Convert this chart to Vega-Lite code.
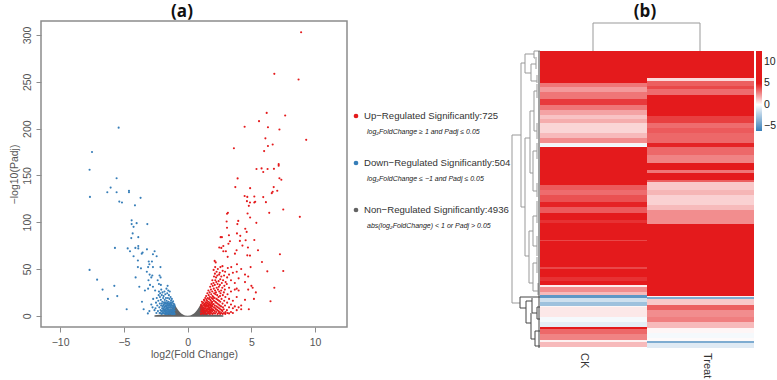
{"$schema":"https://vega.github.io/schema/vega-lite/v6.json","padding":{"left":8,"top":2,"right":0,"bottom":0},"background":"white","spacing":0,"config":{"concat":{"spacing":0},"font":"Liberation Sans"},"datasets":{
"gray":[{"x":-2.6,"y":0.6},{"x":-2.2,"y":1},{"x":-1.6,"y":1.3},{"x":-1.3,"y":7},{"x":-1.05,"y":13},{"x":-0.9,"y":9.5},{"x":-0.8,"y":7.2},{"x":-0.7,"y":5.3},{"x":-0.6,"y":3.7},{"x":-0.5,"y":2.5},{"x":-0.4,"y":1.5},{"x":-0.3,"y":0.8},{"x":-0.2,"y":0.3},{"x":0,"y":0},{"x":0.2,"y":0.3},{"x":0.3,"y":0.8},{"x":0.4,"y":1.5},{"x":0.5,"y":2.5},{"x":0.6,"y":3.7},{"x":0.7,"y":5.3},{"x":0.8,"y":7.2},{"x":0.9,"y":9.5},{"x":1.05,"y":13},{"x":1.3,"y":7},{"x":1.6,"y":1.3},{"x":2.2,"y":1},{"x":2.8,"y":0.6}],
"down":[{"x":-5.41,"y":201},{"x":-7.5,"y":175},{"x":-7.69,"y":156},{"x":-5.57,"y":147},{"x":-7.66,"y":127},{"x":-6.04,"y":137},{"x":-6.3,"y":132},{"x":-5.57,"y":132},{"x":-4.6,"y":133.5},{"x":-4.6,"y":132},{"x":-3.69,"y":126},{"x":-5.36,"y":122},{"x":-5.15,"y":121},{"x":-4.13,"y":118},{"x":-4.39,"y":102},{"x":-4.0,"y":99},{"x":-4.39,"y":98},{"x":-3.16,"y":98},{"x":-4.24,"y":95},{"x":-4.31,"y":88},{"x":-4.42,"y":83},{"x":-3.87,"y":84},{"x":-5.7,"y":72.5},{"x":-4.7,"y":72},{"x":-4.52,"y":69},{"x":-4.1,"y":72.5},{"x":-3.87,"y":74.6},{"x":-3.87,"y":72},{"x":-3.19,"y":71},{"x":-3.53,"y":67.5},{"x":-3.6,"y":66.4},{"x":-2.59,"y":69},{"x":-2.72,"y":65.7},{"x":-2.43,"y":63.6},{"x":-4.24,"y":63.6},{"x":-7.69,"y":49},{"x":-7.1,"y":38.6},{"x":-6.67,"y":28},{"x":-5.75,"y":32},{"x":-6.25,"y":18},{"x":-5.52,"y":21},{"x":-4.78,"y":7},{"x":-3.9,"y":59},{"x":-3.9,"y":52},{"x":-3.66,"y":50.7},{"x":-4.08,"y":41},{"x":-3.79,"y":31},{"x":-3.35,"y":27},{"x":-3.58,"y":15},{"x":-3.45,"y":7},{"x":-3.05,"y":58},{"x":-2.8,"y":58},{"x":-3.0,"y":55},{"x":-3.1,"y":52},{"x":-2.72,"y":52},{"x":-2.13,"y":52},{"x":-3.2,"y":47},{"x":-2.98,"y":44},{"x":-2.85,"y":41},{"x":-3.07,"y":38},{"x":-2.77,"y":43},{"x":-2.35,"y":38},{"x":-2.2,"y":43},{"x":-2.12,"y":41},{"x":-2.25,"y":34},{"x":-2.1,"y":33},{"x":-2.95,"y":33},{"x":-3.1,"y":29},{"x":-2.72,"y":31},{"x":-2.55,"y":27},{"x":-2.7,"y":18},{"x":-2.85,"y":12},{"x":-3.0,"y":5},{"x":-3.12,"y":2.5},{"x":-2.6,"y":6},{"x":-2.75,"y":9},{"x":-2.48,"y":14},{"x":-2.52,"y":8},{"x":-2.42,"y":19},{"x":-2.45,"y":3},{"x":-2.38,"y":11},{"x":-2.33,"y":5},{"x":-2.3,"y":16},{"x":-2.27,"y":22},{"x":-2.25,"y":26},{"x":-2.22,"y":9},{"x":-2.2,"y":3},{"x":-2.18,"y":13},{"x":-2.17,"y":20},{"x":-2.15,"y":24},{"x":-2.12,"y":6},{"x":-2.1,"y":17},{"x":-2.08,"y":11},{"x":-2.07,"y":28},{"x":-2.05,"y":2},{"x":-2.03,"y":22},{"x":-2.0,"y":8},{"x":-1.98,"y":15},{"x":-1.97,"y":25},{"x":-1.95,"y":4},{"x":-1.92,"y":19},{"x":-1.9,"y":11},{"x":-1.88,"y":21},{"x":-1.86,"y":7},{"x":-1.85,"y":14},{"x":-1.83,"y":2.5},{"x":-1.82,"y":26},{"x":-1.8,"y":17},{"x":-1.78,"y":10},{"x":-1.76,"y":5},{"x":-1.75,"y":23},{"x":-1.72,"y":13},{"x":-1.7,"y":2},{"x":-1.7,"y":19},{"x":-1.68,"y":8},{"x":-1.66,"y":29},{"x":-1.65,"y":16},{"x":-1.63,"y":11},{"x":-1.62,"y":5},{"x":-1.6,"y":24},{"x":-1.6,"y":14},{"x":-1.58,"y":2.5},{"x":-1.57,"y":32},{"x":-1.56,"y":8},{"x":-1.55,"y":19},{"x":-1.53,"y":11},{"x":-1.52,"y":27},{"x":-1.5,"y":5},{"x":-1.5,"y":15},{"x":-1.47,"y":22},{"x":-1.45,"y":2},{"x":-1.45,"y":9},{"x":-1.43,"y":12.5},{"x":-1.42,"y":18},{"x":-1.4,"y":6},{"x":-1.4,"y":26},{"x":-1.37,"y":14},{"x":-1.36,"y":3},{"x":-1.35,"y":10},{"x":-1.34,"y":20},{"x":-1.32,"y":7},{"x":-1.3,"y":16},{"x":-1.28,"y":4.5},{"x":-1.27,"y":12},{"x":-1.25,"y":9},{"x":-1.24,"y":18},{"x":-1.23,"y":2},{"x":-1.22,"y":14},{"x":-1.2,"y":6.5},{"x":-1.18,"y":11},{"x":-1.17,"y":4},{"x":-1.15,"y":8.5},{"x":-1.14,"y":15.5},{"x":-1.12,"y":2.5},{"x":-1.11,"y":13},{"x":-1.1,"y":6},{"x":-1.08,"y":10.5},{"x":-1.06,"y":3.5},{"x":-1.05,"y":8},{"x":-1.04,"y":12},{"x":-1.03,"y":5.5},{"x":-1.02,"y":2},{"x":-1.01,"y":10},{"x":-1.5,"y":7},{"x":-1.6,"y":9},{"x":-1.7,"y":11},{"x":-1.8,"y":13},{"x":-1.9,"y":3},{"x":-1.3,"y":11},{"x":-1.4,"y":3.5},{"x":-1.08,"y":1.8},{"x":-1.13,"y":5},{"x":-1.19,"y":1.9},{"x":-1.2,"y":9},{"x":-1.24,"y":6},{"x":-1.29,"y":2},{"x":-1.31,"y":13.5},{"x":-1.33,"y":4},{"x":-1.38,"y":8.5},{"x":-1.39,"y":12},{"x":-1.43,"y":5},{"x":-1.46,"y":11},{"x":-1.48,"y":3},{"x":-1.49,"y":13},{"x":-1.52,"y":9},{"x":-1.54,"y":4},{"x":-1.57,"y":12.5},{"x":-1.59,"y":6.5},{"x":-1.61,"y":2},{"x":-1.63,"y":8},{"x":-1.64,"y":3.5},{"x":-1.66,"y":13},{"x":-1.67,"y":5.5},{"x":-1.69,"y":10},{"x":-1.72,"y":3.5},{"x":-1.73,"y":7},{"x":-1.75,"y":1.9},{"x":-1.77,"y":14.5},{"x":-1.79,"y":6},{"x":-1.82,"y":9},{"x":-1.84,"y":4.5},{"x":-1.87,"y":12},{"x":-1.89,"y":8},{"x":-1.93,"y":6},{"x":-1.96,"y":10},{"x":-1.99,"y":2.5},{"x":-2.02,"y":13},{"x":-2.06,"y":5},{"x":-2.14,"y":3}],
"up":[{"x":8.9,"y":303},{"x":6.8,"y":258.5},{"x":8.7,"y":252.5},{"x":6.2,"y":216.8},{"x":7.65,"y":214},{"x":5.6,"y":208},{"x":4.47,"y":202},{"x":6.3,"y":201.4},{"x":7.2,"y":199},{"x":6.1,"y":189.6},{"x":9.3,"y":188},{"x":6.67,"y":183},{"x":6.3,"y":181.4},{"x":3.63,"y":179},{"x":6.0,"y":176},{"x":7.14,"y":162},{"x":7.14,"y":160.4},{"x":5.8,"y":157.5},{"x":5.4,"y":156.8},{"x":6.27,"y":156.8},{"x":6.77,"y":157},{"x":5.93,"y":153.6},{"x":7.2,"y":147},{"x":7.35,"y":145.4},{"x":3.92,"y":146.8},{"x":3.74,"y":137.5},{"x":4.9,"y":136.4},{"x":6.75,"y":137.5},{"x":7.03,"y":133.6},{"x":6.67,"y":132.5},{"x":6.6,"y":131},{"x":4.47,"y":128},{"x":4.68,"y":127},{"x":5.23,"y":127.5},{"x":5.93,"y":126.8},{"x":4.65,"y":122.5},{"x":4.89,"y":121},{"x":5.23,"y":121},{"x":5.3,"y":121.8},{"x":6.14,"y":121.4},{"x":4.8,"y":117.5},{"x":7.5,"y":113.6},{"x":3.16,"y":110},{"x":3.09,"y":109},{"x":4.7,"y":109.3},{"x":6.4,"y":110},{"x":4.9,"y":105},{"x":8.8,"y":105.7},{"x":3.97,"y":101.4},{"x":3.06,"y":100.7},{"x":3.9,"y":98},{"x":5.39,"y":99.3},{"x":3.09,"y":94},{"x":4.52,"y":93},{"x":4.63,"y":89.6},{"x":3.87,"y":88},{"x":3.24,"y":86},{"x":2.59,"y":84},{"x":2.69,"y":84},{"x":4.13,"y":85.4},{"x":5.23,"y":81},{"x":4.55,"y":80.7},{"x":4.1,"y":80},{"x":3.32,"y":79.6},{"x":3.2,"y":77},{"x":4.3,"y":75},{"x":2.8,"y":74.6},{"x":4.73,"y":73},{"x":2.48,"y":73},{"x":2.64,"y":72.5},{"x":5.52,"y":70},{"x":3.84,"y":70},{"x":2.8,"y":69},{"x":3.0,"y":69},{"x":3.71,"y":66.4},{"x":7.24,"y":65.7},{"x":4.68,"y":64.6},{"x":4.89,"y":64.3},{"x":3.14,"y":63},{"x":2.12,"y":58.6},{"x":2.2,"y":57},{"x":5.83,"y":57.5},{"x":3.87,"y":55},{"x":4.94,"y":52},{"x":7.5,"y":47.9},{"x":6.25,"y":47.5},{"x":4.2,"y":50},{"x":3.42,"y":52},{"x":3.85,"y":47},{"x":4.5,"y":44},{"x":4.75,"y":42},{"x":4.0,"y":40},{"x":4.5,"y":36},{"x":5.0,"y":32},{"x":5.1,"y":30},{"x":4.75,"y":28},{"x":3.85,"y":29},{"x":4.0,"y":27},{"x":3.7,"y":28},{"x":5.35,"y":25},{"x":6.8,"y":30},{"x":5.2,"y":18},{"x":4.5,"y":17},{"x":6.5,"y":15.5},{"x":4.8,"y":7},{"x":4.2,"y":11},{"x":4.0,"y":9},{"x":3.85,"y":6},{"x":3.7,"y":10},{"x":3.55,"y":3},{"x":3.4,"y":4},{"x":4.2,"y":7},{"x":3.4,"y":12},{"x":3.55,"y":8},{"x":3.85,"y":20},{"x":3.55,"y":16},{"x":3.4,"y":26},{"x":3.25,"y":30},{"x":3.4,"y":38},{"x":3.7,"y":35},{"x":3.55,"y":46},{"x":3.25,"y":44},{"x":3.25,"y":18},{"x":3.25,"y":9},{"x":3.25,"y":2.5},{"x":3.12,"y":3},{"x":3.08,"y":6},{"x":3.1,"y":14},{"x":3.13,"y":23},{"x":3.07,"y":34},{"x":3.1,"y":41},{"x":3.15,"y":51},{"x":2.95,"y":2},{"x":2.97,"y":4},{"x":2.93,"y":11},{"x":2.96,"y":20},{"x":2.92,"y":28},{"x":2.98,"y":36},{"x":2.94,"y":47},{"x":2.85,"y":3},{"x":2.83,"y":7},{"x":2.87,"y":16},{"x":2.84,"y":25},{"x":2.88,"y":32},{"x":2.86,"y":43},{"x":2.75,"y":2},{"x":2.73,"y":5},{"x":2.77,"y":9},{"x":2.74,"y":13},{"x":2.76,"y":22},{"x":2.72,"y":30},{"x":2.78,"y":38},{"x":2.75,"y":48},{"x":2.73,"y":53},{"x":2.65,"y":3},{"x":2.67,"y":6},{"x":2.62,"y":10},{"x":2.66,"y":18},{"x":2.63,"y":27},{"x":2.68,"y":35},{"x":2.64,"y":42},{"x":2.55,"y":2},{"x":2.53,"y":4},{"x":2.57,"y":7},{"x":2.52,"y":11},{"x":2.56,"y":15},{"x":2.54,"y":21},{"x":2.58,"y":24},{"x":2.53,"y":33},{"x":2.56,"y":39},{"x":2.52,"y":46},{"x":2.57,"y":52},{"x":2.45,"y":3},{"x":2.43,"y":5},{"x":2.47,"y":8},{"x":2.44,"y":12},{"x":2.46,"y":16},{"x":2.42,"y":20},{"x":2.48,"y":26},{"x":2.45,"y":31},{"x":2.43,"y":37},{"x":2.47,"y":44},{"x":2.35,"y":2},{"x":2.33,"y":6},{"x":2.37,"y":9},{"x":2.34,"y":13},{"x":2.36,"y":17},{"x":2.32,"y":22},{"x":2.38,"y":28},{"x":2.35,"y":34},{"x":2.33,"y":43},{"x":2.37,"y":50},{"x":2.25,"y":4},{"x":2.23,"y":7},{"x":2.27,"y":10},{"x":2.24,"y":14},{"x":2.26,"y":18},{"x":2.22,"y":25},{"x":2.28,"y":30},{"x":2.25,"y":36},{"x":2.23,"y":41},{"x":2.27,"y":47},{"x":2.15,"y":2.5},{"x":2.13,"y":5},{"x":2.17,"y":8},{"x":2.14,"y":11},{"x":2.16,"y":15},{"x":2.12,"y":19},{"x":2.18,"y":23},{"x":2.15,"y":27},{"x":2.13,"y":33},{"x":2.17,"y":38},{"x":2.14,"y":45},{"x":2.16,"y":52},{"x":2.05,"y":3},{"x":2.03,"y":6},{"x":2.07,"y":9},{"x":2.04,"y":12.5},{"x":2.06,"y":16},{"x":2.02,"y":20},{"x":2.08,"y":24},{"x":2.05,"y":29},{"x":2.03,"y":35},{"x":2.07,"y":42},{"x":2.04,"y":49},{"x":1.95,"y":2},{"x":1.93,"y":4.5},{"x":1.97,"y":7},{"x":1.94,"y":10},{"x":1.96,"y":12},{"x":1.92,"y":15},{"x":1.98,"y":18},{"x":1.95,"y":21},{"x":1.93,"y":26},{"x":1.97,"y":32},{"x":1.94,"y":38},{"x":1.85,"y":3},{"x":1.83,"y":5.5},{"x":1.87,"y":8},{"x":1.84,"y":10.5},{"x":1.86,"y":13.5},{"x":1.82,"y":16},{"x":1.88,"y":19},{"x":1.85,"y":23},{"x":1.83,"y":28},{"x":1.87,"y":34},{"x":1.75,"y":2},{"x":1.73,"y":4},{"x":1.77,"y":6.5},{"x":1.74,"y":9},{"x":1.76,"y":11},{"x":1.72,"y":14},{"x":1.78,"y":17},{"x":1.75,"y":20},{"x":1.73,"y":25},{"x":1.77,"y":31},{"x":1.65,"y":2.5},{"x":1.63,"y":4.5},{"x":1.67,"y":7},{"x":1.64,"y":9.5},{"x":1.66,"y":12.5},{"x":1.62,"y":15},{"x":1.68,"y":18},{"x":1.65,"y":22},{"x":1.63,"y":27},{"x":1.55,"y":3},{"x":1.53,"y":5},{"x":1.57,"y":8},{"x":1.54,"y":10.5},{"x":1.56,"y":13},{"x":1.52,"y":16},{"x":1.58,"y":19},{"x":1.55,"y":24},{"x":1.45,"y":2},{"x":1.43,"y":4.5},{"x":1.47,"y":7},{"x":1.44,"y":9.5},{"x":1.46,"y":12},{"x":1.42,"y":14.5},{"x":1.48,"y":17.5},{"x":1.45,"y":21},{"x":1.35,"y":3},{"x":1.33,"y":5.5},{"x":1.37,"y":8},{"x":1.34,"y":10.5},{"x":1.36,"y":13},{"x":1.32,"y":16},{"x":1.38,"y":19},{"x":1.25,"y":2},{"x":1.23,"y":4},{"x":1.27,"y":6.5},{"x":1.24,"y":9},{"x":1.26,"y":11.5},{"x":1.22,"y":14},{"x":1.28,"y":17},{"x":1.15,"y":3},{"x":1.13,"y":5.5},{"x":1.17,"y":8},{"x":1.14,"y":10.5},{"x":1.16,"y":13},{"x":1.12,"y":15},{"x":1.05,"y":2},{"x":1.03,"y":4.5},{"x":1.07,"y":7},{"x":1.04,"y":9.5},{"x":1.06,"y":11.5},{"x":1.5,"y":6},{"x":1.6,"y":11},{"x":1.4,"y":11},{"x":1.7,"y":5.5},{"x":1.8,"y":12},{"x":1.9,"y":6},{"x":1.1,"y":7},{"x":1.2,"y":4.5},{"x":1.3,"y":8},{"x":1.31,"y":12},{"x":1.39,"y":5},{"x":1.41,"y":7.5},{"x":1.5,"y":11},{"x":1.51,"y":14},{"x":1.6,"y":7},{"x":1.61,"y":3},{"x":1.7,"y":8},{"x":1.71,"y":12},{"x":1.8,"y":4},{"x":1.81,"y":9},{"x":1.89,"y":11},{"x":1.9,"y":14}],
"cells":[
{"s":"CK","c0":0,"c1":107,"r0":0,"r1":32,"v":8},{"s":"CK","c0":0,"c1":107,"r0":32,"r1":36,"v":3},{"s":"CK","c0":0,"c1":107,"r0":36,"r1":41,"v":2.2},{"s":"CK","c0":0,"c1":107,"r0":41,"r1":48,"v":3},{"s":"CK","c0":0,"c1":107,"r0":48,"r1":54,"v":4.3},{"s":"CK","c0":0,"c1":107,"r0":54,"r1":59,"v":3},{"s":"CK","c0":0,"c1":107,"r0":59,"r1":64,"v":2},{"s":"CK","c0":0,"c1":107,"r0":64,"r1":68,"v":1.3},{"s":"CK","c0":0,"c1":107,"r0":68,"r1":72,"v":1.8},{"s":"CK","c0":0,"c1":107,"r0":72,"r1":82,"v":0.9},{"s":"CK","c0":0,"c1":107,"r0":82,"r1":87,"v":1.5},{"s":"CK","c0":0,"c1":107,"r0":87,"r1":92,"v":2.5},{"s":"CK","c0":0,"c1":107,"r0":92,"r1":93,"v":0.3},{"s":"CK","c0":0,"c1":107,"r0":93,"r1":95,"v":-0.5},{"s":"CK","c0":0,"c1":107,"r0":95,"r1":96,"v":-0.3},{"s":"CK","c0":0,"c1":107,"r0":96,"r1":134,"v":8},{"s":"CK","c0":0,"c1":107,"r0":134,"r1":139,"v":3.6},{"s":"CK","c0":0,"c1":107,"r0":139,"r1":144,"v":3.2},{"s":"CK","c0":0,"c1":107,"r0":144,"r1":151,"v":3.8},{"s":"CK","c0":0,"c1":107,"r0":151,"r1":156,"v":4.8},{"s":"CK","c0":0,"c1":107,"r0":156,"r1":162,"v":3.6},{"s":"CK","c0":0,"c1":107,"r0":162,"r1":169,"v":5},{"s":"CK","c0":0,"c1":107,"r0":169,"r1":172,"v":4.5},{"s":"CK","c0":0,"c1":107,"r0":172,"r1":189,"v":8},{"s":"CK","c0":0,"c1":107,"r0":189,"r1":190,"v":4},{"s":"CK","c0":0,"c1":107,"r0":190,"r1":216,"v":8},{"s":"CK","c0":0,"c1":107,"r0":216,"r1":218,"v":4},{"s":"CK","c0":0,"c1":107,"r0":218,"r1":226,"v":6},{"s":"CK","c0":0,"c1":107,"r0":226,"r1":230,"v":4.5},{"s":"CK","c0":0,"c1":107,"r0":230,"r1":234,"v":6},{"s":"CK","c0":0,"c1":107,"r0":234,"r1":236,"v":0.4},{"s":"CK","c0":0,"c1":107,"r0":236,"r1":241,"v":2.5},{"s":"CK","c0":0,"c1":107,"r0":241,"r1":244,"v":1.5},{"s":"CK","c0":0,"c1":107,"r0":244,"r1":247,"v":-5},{"s":"CK","c0":0,"c1":107,"r0":247,"r1":251,"v":-1.5},{"s":"CK","c0":0,"c1":107,"r0":251,"r1":255,"v":-3},{"s":"CK","c0":0,"c1":107,"r0":255,"r1":256,"v":0.2},{"s":"CK","c0":0,"c1":107,"r0":256,"r1":266,"v":0.5},{"s":"CK","c0":0,"c1":107,"r0":266,"r1":271,"v":-0.3},{"s":"CK","c0":0,"c1":107,"r0":271,"r1":276,"v":-0.8},{"s":"CK","c0":0,"c1":107,"r0":276,"r1":278,"v":5},{"s":"CK","c0":0,"c1":107,"r0":278,"r1":283,"v":3.3},{"s":"CK","c0":0,"c1":107,"r0":283,"r1":289,"v":2.7},{"s":"CK","c0":0,"c1":107,"r0":289,"r1":291,"v":0.3},{"s":"CK","c0":0,"c1":107,"r0":291,"r1":296,"v":1.5},
{"s":"Treat","c0":107,"c1":214,"r0":0,"r1":27,"v":8},{"s":"Treat","c0":107,"c1":214,"r0":27,"r1":30,"v":0.8},{"s":"Treat","c0":107,"c1":214,"r0":30,"r1":35,"v":3.5},{"s":"Treat","c0":107,"c1":214,"r0":35,"r1":38,"v":4},{"s":"Treat","c0":107,"c1":214,"r0":38,"r1":44,"v":3.2},{"s":"Treat","c0":107,"c1":214,"r0":44,"r1":65,"v":8},{"s":"Treat","c0":107,"c1":214,"r0":65,"r1":72,"v":4.2},{"s":"Treat","c0":107,"c1":214,"r0":72,"r1":77,"v":3.2},{"s":"Treat","c0":107,"c1":214,"r0":77,"r1":82,"v":3.6},{"s":"Treat","c0":107,"c1":214,"r0":82,"r1":92,"v":3.3},{"s":"Treat","c0":107,"c1":214,"r0":92,"r1":96,"v":4.8},{"s":"Treat","c0":107,"c1":214,"r0":96,"r1":104,"v":3.3},{"s":"Treat","c0":107,"c1":214,"r0":104,"r1":112,"v":2.7},{"s":"Treat","c0":107,"c1":214,"r0":112,"r1":119,"v":6},{"s":"Treat","c0":107,"c1":214,"r0":119,"r1":122,"v":3},{"s":"Treat","c0":107,"c1":214,"r0":122,"r1":129,"v":5},{"s":"Treat","c0":107,"c1":214,"r0":129,"r1":131,"v":3.5},{"s":"Treat","c0":107,"c1":214,"r0":131,"r1":139,"v":1.2},{"s":"Treat","c0":107,"c1":214,"r0":139,"r1":144,"v":1.6},{"s":"Treat","c0":107,"c1":214,"r0":144,"r1":154,"v":1},{"s":"Treat","c0":107,"c1":214,"r0":154,"r1":159,"v":1.5},{"s":"Treat","c0":107,"c1":214,"r0":159,"r1":173,"v":2.5},{"s":"Treat","c0":107,"c1":214,"r0":173,"r1":245,"v":8},{"s":"Treat","c0":107,"c1":214,"r0":245,"r1":246,"v":0.3},{"s":"Treat","c0":107,"c1":214,"r0":246,"r1":248,"v":-4},{"s":"Treat","c0":107,"c1":214,"r0":248,"r1":254,"v":1.2},{"s":"Treat","c0":107,"c1":214,"r0":254,"r1":259,"v":3.5},{"s":"Treat","c0":107,"c1":214,"r0":259,"r1":266,"v":2.5},{"s":"Treat","c0":107,"c1":214,"r0":266,"r1":271,"v":2.8},{"s":"Treat","c0":107,"c1":214,"r0":271,"r1":277,"v":1.5},{"s":"Treat","c0":107,"c1":214,"r0":277,"r1":282,"v":0.2},{"s":"Treat","c0":107,"c1":214,"r0":282,"r1":287,"v":-0.3},{"s":"Treat","c0":107,"c1":214,"r0":287,"r1":290,"v":0.1},{"s":"Treat","c0":107,"c1":214,"r0":290,"r1":292,"v":-4},{"s":"Treat","c0":107,"c1":214,"r0":292,"r1":297,"v":-1}],
"tree":[{"x":53,"x2":53,"y":-28,"y2":0},{"x":160,"x2":160,"y":-28,"y2":0},{"x":53,"x2":160,"y":-28,"y2":-28},
{"x":-28,"x2":-28,"y":84,"y2":252},{"x":-28,"x2":-19,"y":84,"y2":84},{"x":-28,"x2":-20,"y":252,"y2":252},
{"x":-19,"x2":-19,"y":12,"y2":156},{"x":-19,"x2":-15,"y":12,"y2":12},{"x":-15,"x2":-15,"y":3,"y2":22},{"x":-15,"x2":-6,"y":3,"y2":3},{"x":-6,"x2":-6,"y":0,"y2":7},{"x":-6,"x2":0,"y":0,"y2":0},{"x":-6,"x2":-3,"y":7,"y2":7},{"x":-15,"x2":-9,"y":22,"y2":22},{"x":-9,"x2":-9,"y":13,"y2":30},{"x":-9,"x2":-4,"y":13,"y2":13},{"x":-4,"x2":-4,"y":8,"y2":18},{"x":-9,"x2":-3,"y":30,"y2":30},{"x":-3,"x2":-3,"y":24,"y2":32},
{"x":-19,"x2":-15,"y":156,"y2":156},{"x":-15,"x2":-15,"y":87,"y2":205},{"x":-15,"x2":-10,"y":87,"y2":87},{"x":-10,"x2":-10,"y":60,"y2":122},{"x":-10,"x2":-6,"y":60,"y2":60},{"x":-6,"x2":-6,"y":40,"y2":80},{"x":-6,"x2":-3,"y":40,"y2":40},{"x":-3,"x2":-3,"y":33,"y2":47},{"x":-6,"x2":-3,"y":80,"y2":80},{"x":-3,"x2":-3,"y":72,"y2":88},{"x":-10,"x2":-7,"y":122,"y2":122},{"x":-7,"x2":-7,"y":100,"y2":140},{"x":-7,"x2":-3,"y":100,"y2":100},{"x":-3,"x2":-3,"y":92,"y2":108},{"x":-7,"x2":-3,"y":140,"y2":140},{"x":-3,"x2":-3,"y":132,"y2":146},
{"x":-15,"x2":-11,"y":205,"y2":205},{"x":-11,"x2":-11,"y":180,"y2":232},{"x":-11,"x2":-7,"y":180,"y2":180},{"x":-7,"x2":-7,"y":165,"y2":195},{"x":-7,"x2":-3,"y":165,"y2":165},{"x":-3,"x2":-3,"y":150,"y2":172},{"x":-7,"x2":-3,"y":195,"y2":195},{"x":-3,"x2":-3,"y":185,"y2":205},{"x":-11,"x2":-7,"y":232,"y2":232},{"x":-7,"x2":-7,"y":212,"y2":240},{"x":-7,"x2":-3,"y":212,"y2":212},{"x":-3,"x2":-3,"y":206,"y2":222},{"x":-7,"x2":-2,"y":240,"y2":240},{"x":-2,"x2":-2,"y":232,"y2":244}],
"treeDark":[{"x":-1,"x2":-1,"y":0,"y2":297},{"x":-20,"x2":-20,"y":246,"y2":257},{"x":-20,"x2":0,"y":246,"y2":246},{"x":-20,"x2":-14,"y":257,"y2":257},{"x":-14,"x2":-14,"y":250,"y2":272},{"x":-14,"x2":-8,"y":250,"y2":250},{"x":-14,"x2":-9,"y":272,"y2":272},{"x":-8,"x2":-8,"y":247,"y2":262},{"x":-9,"x2":-9,"y":262,"y2":288},{"x":-8,"x2":-3,"y":262,"y2":262},{"x":-3,"x2":-3,"y":256,"y2":268},{"x":-3,"x2":0,"y":256,"y2":256},{"x":-3,"x2":0,"y":268,"y2":268},{"x":-9,"x2":-5,"y":288,"y2":288},{"x":-5,"x2":-5,"y":280,"y2":295},{"x":-5,"x2":0,"y":280,"y2":280},{"x":-5,"x2":0,"y":295,"y2":295}],
"legend":[{"rank":1,"g":"up","label":"Up−Regulated Significantly:725","note":"log₂FoldChange ≥ 1  and Padj ≤ 0.05"},{"rank":2,"g":"down","label":"Down−Regulated Significantly:504","note":"log₂FoldChange ≤ −1  and Padj ≤ 0.05"},{"rank":3,"g":"non","label":"Non−Regulated Significantly:4936","note":"abs(log₂FoldChange) < 1 or Padj > 0.05"}],
"samples":[{"s":"CK","x":44},{"s":"Treat","x":167}]},
"hconcat":[
{"width":306,"height":306,"title":{"text":"(a)","font":"Open Sans","fontSize":17,"fontWeight":"bold","color":"#111","dx":-12,"offset":0},"view":{"stroke":"#8c8c8c","strokeWidth":1.5},
"encoding":{"x":{"field":"x","type":"quantitative","scale":{"domain":[-11.5,12.5],"nice":false,"zero":false},"axis":{"values":[-10,-5,0,5,10],"grid":false,"domain":false,"tickColor":"#8c8c8c","tickSize":5,"labelColor":"#555","labelFontSize":10.5,"labelPadding":5,"title":"log2(Fold Change)","titleFontSize":10.5,"titleFontWeight":"normal","titleColor":"#555","titlePadding":2}},"y":{"field":"y","type":"quantitative","scale":{"domain":[-12,315],"nice":false,"zero":false},"axis":{"values":[0,50,100,150,200,250,300],"grid":false,"domain":false,"tickColor":"#8c8c8c","tickSize":5,"labelColor":"#555","labelFontSize":10.5,"labelAngle":-90,"labelAlign":"center","labelBaseline":"bottom","labelPadding":4,"title":"−log10(Padj)","titleFontSize":10.5,"titleFontWeight":"normal","titleColor":"#555","titlePadding":3}}},
"layer":[{"data":{"name":"gray"},"mark":{"type":"area","color":"#636363"},"encoding":{"y2":{"datum":-1}}},{"data":{"name":"down"},"mark":{"type":"circle","size":4.5,"opacity":1,"color":"#377EB8"}},{"data":{"name":"up"},"mark":{"type":"circle","size":4.5,"opacity":1,"color":"#E41A1C"}}]},
{"width":150,"height":350,"data":{"name":"legend"},"view":{"stroke":null},
"encoding":{"y":{"field":"rank","type":"quantitative","axis":null,"scale":{"domain":[-1.021,6.426],"reverse":true,"nice":false,"zero":false}}},
"layer":[{"mark":{"type":"circle","size":22,"opacity":1},"encoding":{"x":{"value":8},"color":{"field":"g","type":"nominal","legend":null,"scale":{"domain":["up","down","non"],"range":["#E41A1C","#377EB8","#636363"]}}}},
{"mark":{"type":"text","align":"left","baseline":"middle","fontSize":9.6,"color":"#333"},"encoding":{"x":{"value":16},"text":{"field":"label"}}},
{"mark":{"type":"text","align":"left","baseline":"middle","fontSize":7,"fontStyle":"italic","color":"#222","dy":16},"encoding":{"x":{"value":19},"text":{"field":"note"}}}]},
{"width":250,"height":327,"title":{"text":"(b)","font":"Open Sans","fontSize":17,"fontWeight":"bold","color":"#111","dx":8,"offset":0},"view":{"stroke":null},
"layer":[
{"data":{"name":"cells"},"mark":{"type":"rect"},"encoding":{"x":{"field":"c0","type":"quantitative","axis":null,"scale":{"domain":[-28,222],"nice":false,"zero":false}},"x2":{"field":"c1"},"y":{"field":"r0","type":"quantitative","axis":null,"scale":{"domain":[-30,297],"reverse":true,"nice":false,"zero":false}},"y2":{"field":"r1"},"color":{"field":"v","type":"quantitative","scale":{"type":"linear","domain":[-6.2,0,5,12.6],"range":["#377EB8","#ffffff","#E41A1C","#E41A1C"],"interpolate":"rgb","nice":false,"zero":false},"legend":{"orient":"none","legendX":244,"legendY":30,"title":null,"gradientLength":80,"gradientThickness":6,"values":[-5,0,5,10],"labelFontSize":10.5,"labelColor":"#222","gradientStrokeWidth":0}}}},
{"data":{"name":"tree"},"mark":{"type":"rule","color":"#999999","strokeWidth":1},"encoding":{"x":{"field":"x","type":"quantitative","axis":null},"x2":{"field":"x2"},"y":{"field":"y","type":"quantitative","axis":null},"y2":{"field":"y2"}}},
{"data":{"name":"treeDark"},"mark":{"type":"rule","color":"#444444","strokeWidth":1},"encoding":{"x":{"field":"x","type":"quantitative","axis":null},"x2":{"field":"x2"},"y":{"field":"y","type":"quantitative","axis":null},"y2":{"field":"y2"}}},
{"data":{"name":"samples"},"mark":{"type":"text","angle":90,"align":"left","baseline":"middle","fontSize":11,"color":"#333"},"encoding":{"x":{"field":"x","type":"quantitative"},"y":{"datum":302},"text":{"field":"s"}}}]}
]}
